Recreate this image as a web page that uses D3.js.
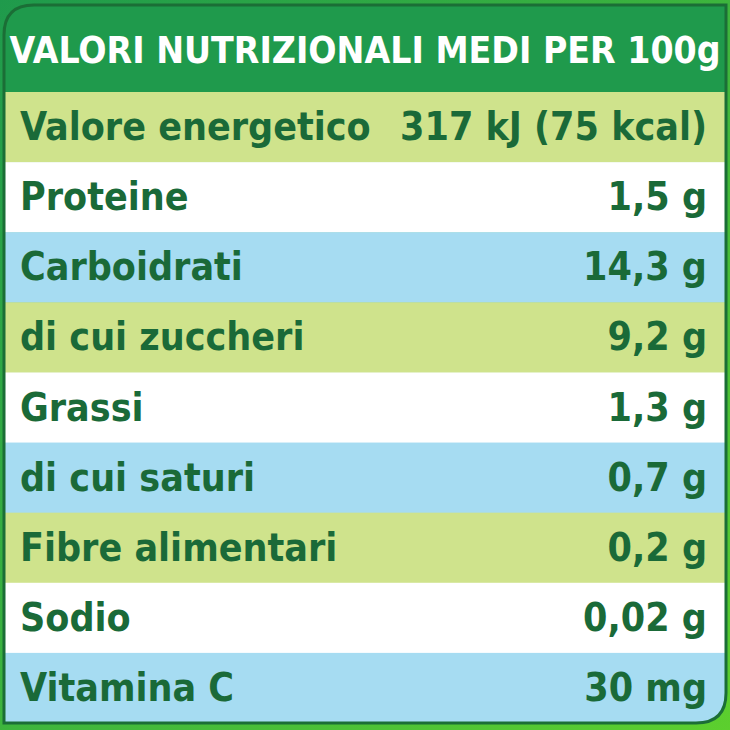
<!DOCTYPE html>
<html><head><meta charset="utf-8">
<script src="https://cdn.jsdelivr.net/npm/d3@7"></script>
<style>body{margin:0;background:#2fb34a}svg{display:block}</style>
</head><body>
<script>
const title = "VALORI NUTRIZIONALI MEDI PER 100g";
const labels = ["Valore energetico","Proteine","Carboidrati","di cui zuccheri","Grassi","di cui saturi","Fibre alimentari","Sodio","Vitamina C"];
const values = ["317 kJ (75 kcal)","1,5 g","14,3 g","9,2 g","1,3 g","0,7 g","0,2 g","0,02 g","30 mg"];
const rowColors = ["#cfe38c","#ffffff","#a6dcf2","#cfe38c","#ffffff","#a6dcf2","#cfe38c","#ffffff","#a6dcf2"];

const W=730,H=730;
const svg=d3.select("body").append("svg").attr("width",W).attr("height",H);
const defs=svg.append("defs");
const g=defs.append("linearGradient").attr("id","bg").attr("x1",0).attr("y1",0).attr("x2",1).attr("y2",1);
g.append("stop").attr("offset","0").attr("stop-color","#1f9a4c");
g.append("stop").attr("offset","1").attr("stop-color","#5ccf2e");
svg.append("rect").attr("width",W).attr("height",H).attr("fill","url(#bg)");

const L=4,R=726,T=5,B=723;
const clip=defs.append("clipPath").attr("id","c");
clip.append("path").attr("d",`M${L+30},${T} H${R} V${B-30} Q${R},${B} ${R-30},${B} H${L} V${T+30} Q${L},${T} ${L+30},${T} Z`);

const gr=svg.append("g").attr("clip-path","url(#c)");
gr.append("rect").attr("x",L).attr("y",T).attr("width",R-L).attr("height",92-T).attr("fill","#1f9a4c");

const y=d3.scaleBand().domain(d3.range(labels.length)).range([92,B]).padding(0);
gr.selectAll("rect.row").data(labels).join("rect").attr("class","row")
 .attr("x",L).attr("y",(d,i)=>y(i)).attr("width",R-L).attr("height",y.bandwidth()+0.5)
 .attr("fill",(d,i)=>rowColors[i]);

const font="'Liberation Sans Narrow','DejaVu Sans Condensed','Open Sans',sans-serif";
svg.append("text").attr("x",W/2).attr("y",63).attr("text-anchor","middle")
 .attr("font-family",font).attr("font-weight","bold").attr("font-size",37)
 .attr("fill","#ffffff").text(title);

const tc="#1a6a38";
svg.selectAll("text.lab").data(labels).join("text").attr("class","lab")
 .attr("x",20).attr("y",(d,i)=>y(i)+y.bandwidth()/2+13)
 .attr("font-family",font).attr("font-weight","bold").attr("font-size",39).attr("fill",tc).text(d=>d);
svg.selectAll("text.val").data(values).join("text").attr("class","val")
 .attr("x",707).attr("y",(d,i)=>y(i)+y.bandwidth()/2+13).attr("text-anchor","end")
 .attr("font-family",font).attr("font-weight","bold").attr("font-size",39).attr("fill",tc).text(d=>d);

svg.append("path").attr("d",clip.select("path").attr("d")).attr("fill","none").attr("stroke","#1b6e36").attr("stroke-width",3);
</script>
</body></html>
